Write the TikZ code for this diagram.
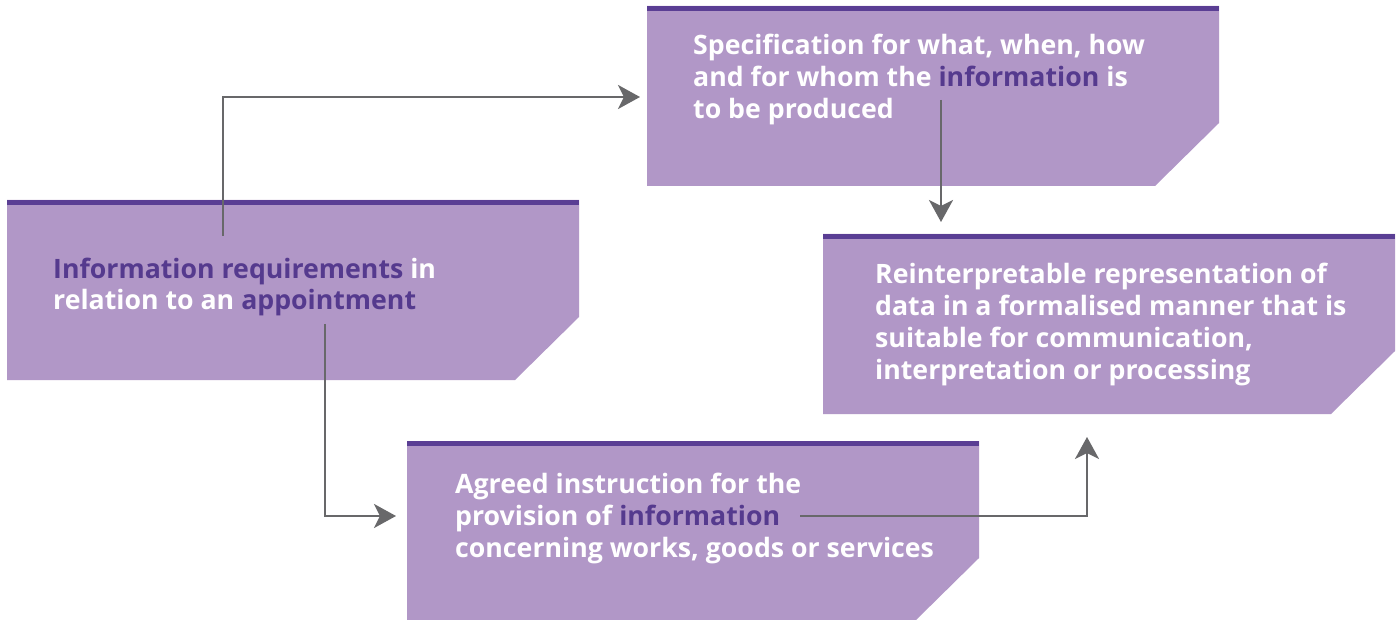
\documentclass[tikz,border=0pt]{standalone}
\usepackage{fontspec}
\setmainfont{Open Sans}
\usetikzlibrary{arrows.meta}
\definecolor{boxfill}{HTML}{B197C7}
\definecolor{boxbar}{HTML}{5A3E94}
\definecolor{hl}{HTML}{553A8E}
\definecolor{arrowgray}{HTML}{68686A}
\newcommand{\hlt}[1]{\textcolor{hl}{#1}}
\begin{document}
\begin{tikzpicture}[x=1pt,y=-1pt,
  chbox/.pic={
    \fill[boxfill] (0,0) -- (572,0) -- (572,117) -- (508,180) -- (0,180) -- cycle;
    \fill[boxbar] (0,0) rectangle (572,5);
  },
  boxtext/.style={anchor=base west, align=left, inner sep=0pt, text=white,
    font=\fontsize{26.7}{32}\selectfont\bfseries},
  conn/.style={draw=arrowgray, line width=2.9pt,
    -{Stealth[length=22pt, width=24pt, inset=6pt]}}
]
\useasboundingbox (0,0) rectangle (1398,620);
\fill[white] (0,0) rectangle (1398,620);

\pic at (7,200) {chbox};
\pic at (647,6) {chbox};
\pic at (823,234) {chbox};
\pic at (407,441) {chbox};

% anchors are at the baseline of each text's last line
\node[boxtext] (req) at (53,310) {\hlt{Information requirements} in\\relation to an \hlt{appointment}};
\node[boxtext] (spec) at (693,119) {Specification for what, when, how\\and for whom the \hlt{information} is\\to be produced};
\node[boxtext] (info) at (875,379) {Reinterpretable representation of\\data in a formalised manner that is\\suitable for communication,\\interpretation or processing};
\node[boxtext] (agr) at (455,557) {Agreed instruction for the\\provision of \hlt{information}\\concerning works, goods or services};

\coordinate (a1s) at (223,236);
\coordinate (a1e) at (640,97);
\coordinate (a2s) at (941,100);
\coordinate (a2e) at (941,222);
\coordinate (a3s) at (325,324);
\coordinate (a3e) at (396,516);
\coordinate (a4s) at (800,516);
\coordinate (a4e) at (1087,437);

\draw[conn] (a1s) |- (a1e);
\draw[conn] (a2s) -- (a2e);
\draw[conn] (a3s) |- (a3e);
\draw[conn] (a4s) -| (a4e);
\end{tikzpicture}
\end{document}
